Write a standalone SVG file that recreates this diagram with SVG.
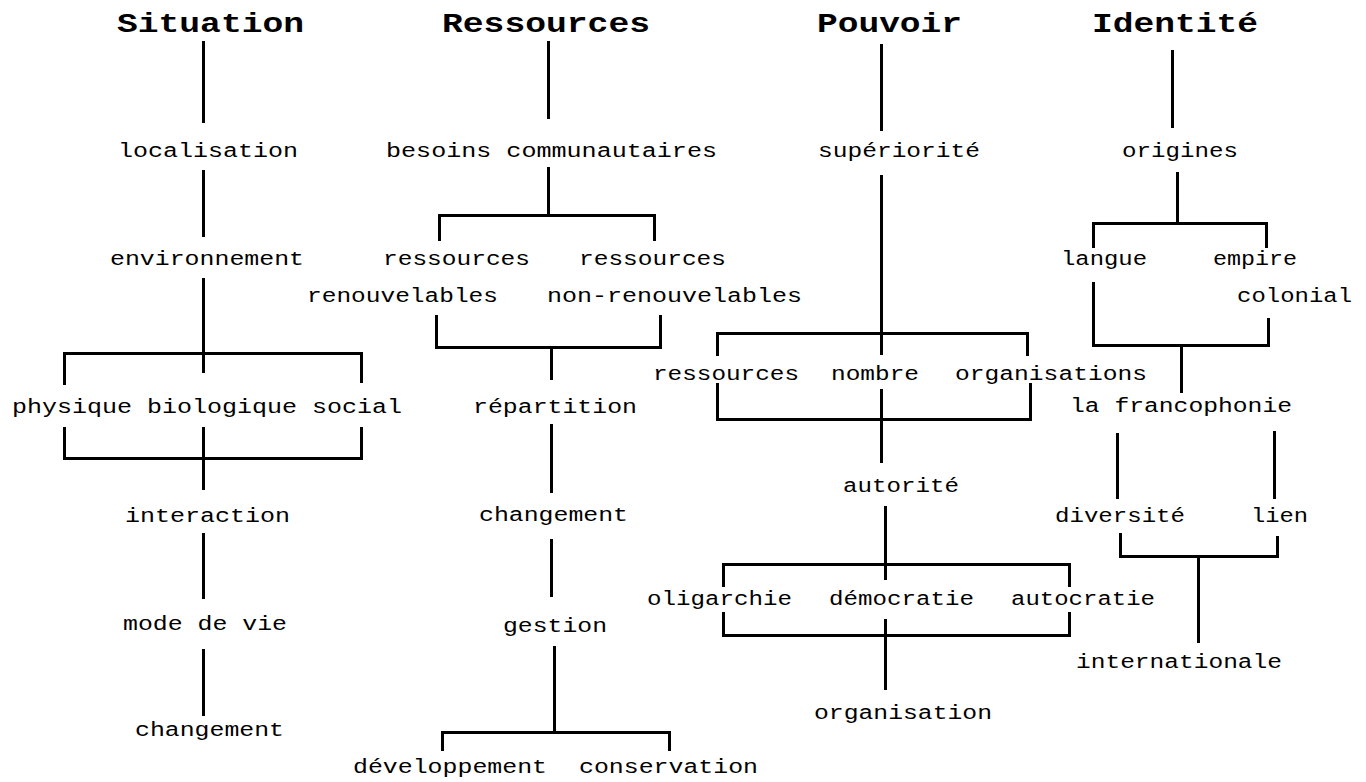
<svg xmlns="http://www.w3.org/2000/svg" width="1366" height="782" viewBox="0 0 1366 782">
<style>
.t{font-family:"Liberation Mono","DejaVu Sans Mono",monospace;font-size:20px;fill:#000}
.h{font-family:"Liberation Mono","DejaVu Sans Mono",monospace;font-size:28px;font-weight:bold;fill:#000}
.c path{fill:none;stroke:#000;stroke-width:3;shape-rendering:crispEdges}
</style>
<rect width="1366" height="782" fill="#fff"/>
<g id="connectors" class="c">
<path d="M203,41V123M203,170V237M203,278V373M64,385V353H361V383M64,427V458H361V427M203,427V490M203,533V599M203,649V716"/>
<path d="M548,41V119M548,167V215M439,241V215H654V241M436,315V347H660V315M551,347V380M551,424V493M551,539V597M554,646V732M442,751V732H669V751"/>
<path d="M881,44V131M881,175V355M717,356V333H1027V356M717,383V419H1030V383M881,389V463M885,506V580M723,587V564H1069V587M723,612V635H1069V612M885,619V690"/>
<path d="M1172,50V128M1177,172V223M1093,248V223H1266V248M1093,282V345H1268V318M1181,345V393M1117,433V499M1274,431V499M1120,533V556H1277V536M1198,556V643"/>
</g>
<g id="situation">
<text class="h" x="117" y="32" textLength="187" lengthAdjust="spacingAndGlyphs">Situation</text>
<text class="t" x="118" y="157" textLength="180" lengthAdjust="spacingAndGlyphs">localisation</text>
<text class="t" x="110" y="265" textLength="194" lengthAdjust="spacingAndGlyphs">environnement</text>
<text class="t" x="12" y="413" textLength="390" lengthAdjust="spacingAndGlyphs">physique biologique social</text>
<text class="t" x="125" y="522" textLength="165" lengthAdjust="spacingAndGlyphs">interaction</text>
<text class="t" x="123" y="630" textLength="164" lengthAdjust="spacingAndGlyphs">mode de vie</text>
<text class="t" x="135" y="736" textLength="149" lengthAdjust="spacingAndGlyphs">changement</text>
</g>
<g id="ressources">
<text class="h" x="442" y="32" textLength="208" lengthAdjust="spacingAndGlyphs">Ressources</text>
<text class="t" x="386" y="157" textLength="331" lengthAdjust="spacingAndGlyphs">besoins communautaires</text>
<text class="t" x="383" y="265" textLength="147" lengthAdjust="spacingAndGlyphs">ressources</text>
<text class="t" x="579" y="265" textLength="147" lengthAdjust="spacingAndGlyphs">ressources</text>
<text class="t" x="307" y="302" textLength="191" lengthAdjust="spacingAndGlyphs">renouvelables</text>
<text class="t" x="547" y="302" textLength="255" lengthAdjust="spacingAndGlyphs">non-renouvelables</text>
<text class="t" x="473" y="413" textLength="164" lengthAdjust="spacingAndGlyphs">répartition</text>
<text class="t" x="479" y="521" textLength="149" lengthAdjust="spacingAndGlyphs">changement</text>
<text class="t" x="503" y="632" textLength="104" lengthAdjust="spacingAndGlyphs">gestion</text>
<text class="t" x="353" y="773" textLength="194" lengthAdjust="spacingAndGlyphs">développement</text>
<text class="t" x="579" y="773" textLength="179" lengthAdjust="spacingAndGlyphs">conservation</text>
</g>
<g id="pouvoir">
<text class="h" x="817" y="32" textLength="145" lengthAdjust="spacingAndGlyphs">Pouvoir</text>
<text class="t" x="818" y="157" textLength="162" lengthAdjust="spacingAndGlyphs">supériorité</text>
<text class="t" x="653" y="380" textLength="146" lengthAdjust="spacingAndGlyphs">ressources</text>
<text class="t" x="831" y="380" textLength="88" lengthAdjust="spacingAndGlyphs">nombre</text>
<text class="t" x="955" y="380" textLength="192" lengthAdjust="spacingAndGlyphs">organisations</text>
<text class="t" x="843" y="492" textLength="116" lengthAdjust="spacingAndGlyphs">autorité</text>
<text class="t" x="647" y="605" textLength="145" lengthAdjust="spacingAndGlyphs">oligarchie</text>
<text class="t" x="829" y="605" textLength="145" lengthAdjust="spacingAndGlyphs">démocratie</text>
<text class="t" x="1011" y="605" textLength="144" lengthAdjust="spacingAndGlyphs">autocratie</text>
<text class="t" x="814" y="719" textLength="178" lengthAdjust="spacingAndGlyphs">organisation</text>
</g>
<g id="identite">
<text class="h" x="1092" y="32" textLength="166" lengthAdjust="spacingAndGlyphs">Identité</text>
<text class="t" x="1122" y="157" textLength="116" lengthAdjust="spacingAndGlyphs">origines</text>
<text class="t" x="1061" y="265" textLength="86" lengthAdjust="spacingAndGlyphs">langue</text>
<text class="t" x="1213" y="265" textLength="84" lengthAdjust="spacingAndGlyphs">empire</text>
<text class="t" x="1237" y="302" textLength="115" lengthAdjust="spacingAndGlyphs">colonial</text>
<text class="t" x="1070" y="412" textLength="222" lengthAdjust="spacingAndGlyphs">la francophonie</text>
<text class="t" x="1055" y="522" textLength="130" lengthAdjust="spacingAndGlyphs">diversité</text>
<text class="t" x="1251" y="522" textLength="57" lengthAdjust="spacingAndGlyphs">lien</text>
<text class="t" x="1076" y="668" textLength="206" lengthAdjust="spacingAndGlyphs">internationale</text>
</g>
</svg>
